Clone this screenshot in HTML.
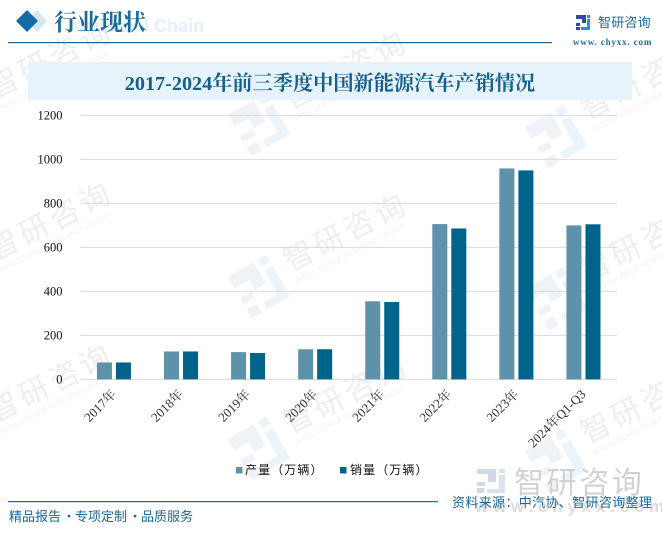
<!DOCTYPE html>
<html lang="zh">
<head>
<meta charset="utf-8">
<title>2017-2024年前三季度中国新能源汽车产销情况</title>
<style>
html,body{margin:0;padding:0;background:#fff;width:662px;height:533px;overflow:hidden;}
#stage{position:relative;width:662px;height:533px;overflow:hidden;background:#fff;}
svg{position:absolute;left:0;top:0;}
.serif{font-family:"Liberation Serif","Noto Serif CJK SC",serif;}
.sans{font-family:"Liberation Sans","Noto Sans CJK SC",sans-serif;}
</style>
</head>
<body>
<div id="stage">
<svg id="chart" width="662" height="533" viewBox="0 0 662 533" xmlns="http://www.w3.org/2000/svg">
  <defs>
    <g id="wm">
      <text x="0" y="0" font-size="30" fill="#eeeeee" letter-spacing="4" style="font-family:'Noto Sans CJK SC',sans-serif">智研咨询</text>
      <text x="1" y="13" font-size="7.2" fill="#f1f1f1" style="font-family:'Liberation Sans',sans-serif">INTELLIGENCE RESEARCH GROUP</text>
    </g>
    <g id="wmlogo">
      <path d="M0 0h36v30h-20v8h-16v-8h20v-14h-20z" fill="#eff2f6"/>
      <rect x="0" y="46" width="14" height="12" fill="#eff2f6"/>
      <rect x="42" y="0" width="12" height="10" fill="#eaf4fa"/>
      <path d="M42 16h12v42h-32v-10h20z" fill="#eaf4fa"/>
    </g>
  </defs>

  <g>
    <use href="#wm" transform="translate(-5,99) rotate(-27)"/>
    <use href="#wm" transform="translate(290,110) rotate(-27)"/>
    <use href="#wm" transform="translate(587,120) rotate(-27)"/>
    <use href="#wm" transform="translate(-5,261) rotate(-27)"/>
    <use href="#wm" transform="translate(290,272) rotate(-27)"/>
    <use href="#wm" transform="translate(587,282) rotate(-27)"/>
    <use href="#wm" transform="translate(-5,423) rotate(-27)"/>
    <use href="#wm" transform="translate(290,434) rotate(-27)"/>
    <use href="#wm" transform="translate(587,444) rotate(-27)"/>
    <use href="#wmlogo" transform="translate(228,115) rotate(-30) scale(.82)"/>
    <use href="#wmlogo" transform="translate(228,277) rotate(-30) scale(.82)"/>
    <use href="#wmlogo" transform="translate(228,439) rotate(-30) scale(.82)"/>
    <use href="#wmlogo" transform="translate(525,127) rotate(-30) scale(.82)"/>
    <use href="#wmlogo" transform="translate(525,289) rotate(-30) scale(.82)"/>
    <use href="#wmlogo" transform="translate(525,451) rotate(-30) scale(.82)"/>
  </g>

  <g>
    <polygon points="37,10 47,21 37,32 27,21" fill="#d6e6f1"/>
    <polygon points="27,10 38,21 27,32 16,21" fill="#136ca6"/>
    <text x="68" y="32" font-size="18" font-weight="700" fill="#e3f0fa" class="sans">Industrial Chain</text>
    <text x="54" y="30" font-size="23" font-weight="700" fill="#1a6a9c" style="font-family:'Noto Serif CJK SC',serif">行业现状</text>
    <rect x="8" y="42" width="544" height="1.2" fill="#12689a"/>
    <g>
      <path d="M576 15h10v8h-6v3h-4v-3h6v-4h-6z" fill="#2d4e9a"/>
      <rect x="576" y="27" width="4" height="3" fill="#2d4e9a"/>
      <rect x="587" y="15" width="3" height="3" fill="#2a8fd6"/>
      <path d="M587 19h3v11h-9v-3h6z" fill="#2a8fd6"/>
    </g>
    <text x="598" y="27" font-size="13" fill="#1b6a9c" letter-spacing=".2" style="font-family:'Noto Sans CJK SC',sans-serif">智研咨询</text>
    <text x="573" y="45" font-size="9" font-weight="700" fill="#1b6a9c" letter-spacing=".85" class="serif">www. chyxx. com</text>
  </g>

  <rect x="28" y="62" width="604" height="38" fill="#e6f3fb"/>
  <text x="330" y="90" font-size="20.2" font-weight="700" fill="#175f8e" text-anchor="middle" style="font-family:'Liberation Serif','Noto Serif CJK SC',serif">2017-2024年前三季度中国新能源汽车产销情况</text>

  <g id="grid"></g>
  <g id="ylabels"></g>
  <g id="bars"></g>
  <g id="xlabels"></g>

  <g>
    <g>
      <rect x="236" y="467" width="6.5" height="6.5" fill="#5e92aa"/>
      <text x="245" y="474" font-size="12" fill="#111" letter-spacing="1.1" style="font-family:'Noto Sans CJK SC',sans-serif">产量（万辆）</text>
    </g>
    <g>
      <rect x="340" y="467" width="6.5" height="6.5" fill="#00648a"/>
      <text x="350" y="474" font-size="12" fill="#111" letter-spacing="1.1" style="font-family:'Noto Sans CJK SC',sans-serif">销量（万辆）</text>
    </g>
  </g>

  <g>
    <path d="M477 469h19v13h-11v4h-8v-4h11v-8h-11z" fill="#cfd8e6"/>
    <rect x="477" y="488" width="7" height="5" fill="#cfd8e6"/>
    <rect x="499" y="469" width="6" height="4" fill="#d6e4f0"/>
    <path d="M499 475h6v18h-18v-4h12z" fill="#d6e4f0"/>
    <text x="514" y="493" font-size="30" fill="#d2d2d2" letter-spacing="2.6" style="font-family:'Noto Sans CJK SC',sans-serif">智研咨询</text>
    <text x="475" y="512" font-size="17" font-weight="700" fill="#dcdcdc" letter-spacing="4.8" class="sans">www.chyxx.com</text>
  </g>

  <rect x="8" y="501" width="430" height="1.2" fill="#12689a"/>
  <text y="521" font-size="13" fill="#17689a" style="font-family:'Noto Sans CJK SC',sans-serif"><tspan x="9">精品报告</tspan><tspan x="62.5">·</tspan><tspan x="75">专项定制</tspan><tspan x="128.5">·</tspan><tspan x="141">品质服务</tspan></text>
  <text x="452" y="507" font-size="13" fill="#17689a" letter-spacing=".35" style="font-family:'Noto Sans CJK SC',sans-serif">资料来源：中汽协、智研咨询整理</text>
</svg>
</div>
<script>
const categories = ['2017年','2018年','2019年','2020年','2021年','2022年','2023年','2024年Q1-Q3'];
const productionValues = [77, 127, 124, 137, 355, 706, 959, 700];
const salesValues = [77, 127, 120, 137, 352, 686, 950, 705];
const yTicks = [0, 200, 400, 600, 800, 1000, 1200];

const NS = 'http://www.w3.org/2000/svg';
const plotLeft = 80.4, plotRight = 617, plotTop = 115.4, plotBottom = 379.4, yMax = 1200;
const barWidth = 15, barGap = 4;
const yScale = v => plotBottom - (v / yMax) * (plotBottom - plotTop);
const xCenter = i => plotLeft + (plotRight - plotLeft) * (i + 0.5) / categories.length;

function make(tag, attrs, parent) {
  const el = document.createElementNS(NS, tag);
  for (const k in attrs) el.setAttribute(k, attrs[k]);
  parent.appendChild(el);
  return el;
}

const gridG = document.getElementById('grid');
const yLabelG = document.getElementById('ylabels');
yTicks.forEach(t => {
  const y = yScale(t);
  const line = make('line', {x1: plotLeft, x2: plotRight, y1: y, y2: y, stroke: '#d9d9d9', 'stroke-width': 1}, gridG);
  
  
  const label = make('text', {x: 62.5, y: y + 4, 'font-size': 12.5, fill: '#111', 'text-anchor': 'end', 'class': 'serif'}, yLabelG);
  label.textContent = String(t);
  
  
});

const barG = document.getElementById('bars');
const xLabelG = document.getElementById('xlabels');
categories.forEach((c, i) => {
  const cx = xCenter(i);
  const y1 = yScale(productionValues[i]);
  const barA = make('rect', {x: cx - barGap / 2 - barWidth, y: y1, width: barWidth, height: plotBottom - y1, fill: '#5e92aa'}, barG);
  
  
  const y2 = yScale(salesValues[i]);
  const barB = make('rect', {x: cx + barGap / 2, y: y2, width: barWidth, height: plotBottom - y2, fill: '#00648a'}, barG);
  
  
  const lx = cx + 3, ly = 395;
  const label = make('text', {x: lx, y: ly, 'font-size': 13, fill: '#333', 'text-anchor': 'end', 'class': 'serif', transform: 'rotate(-45 ' + lx + ' ' + ly + ')'}, xLabelG);
  label.textContent = c;
  
  
});
</script>
</body>
</html>
